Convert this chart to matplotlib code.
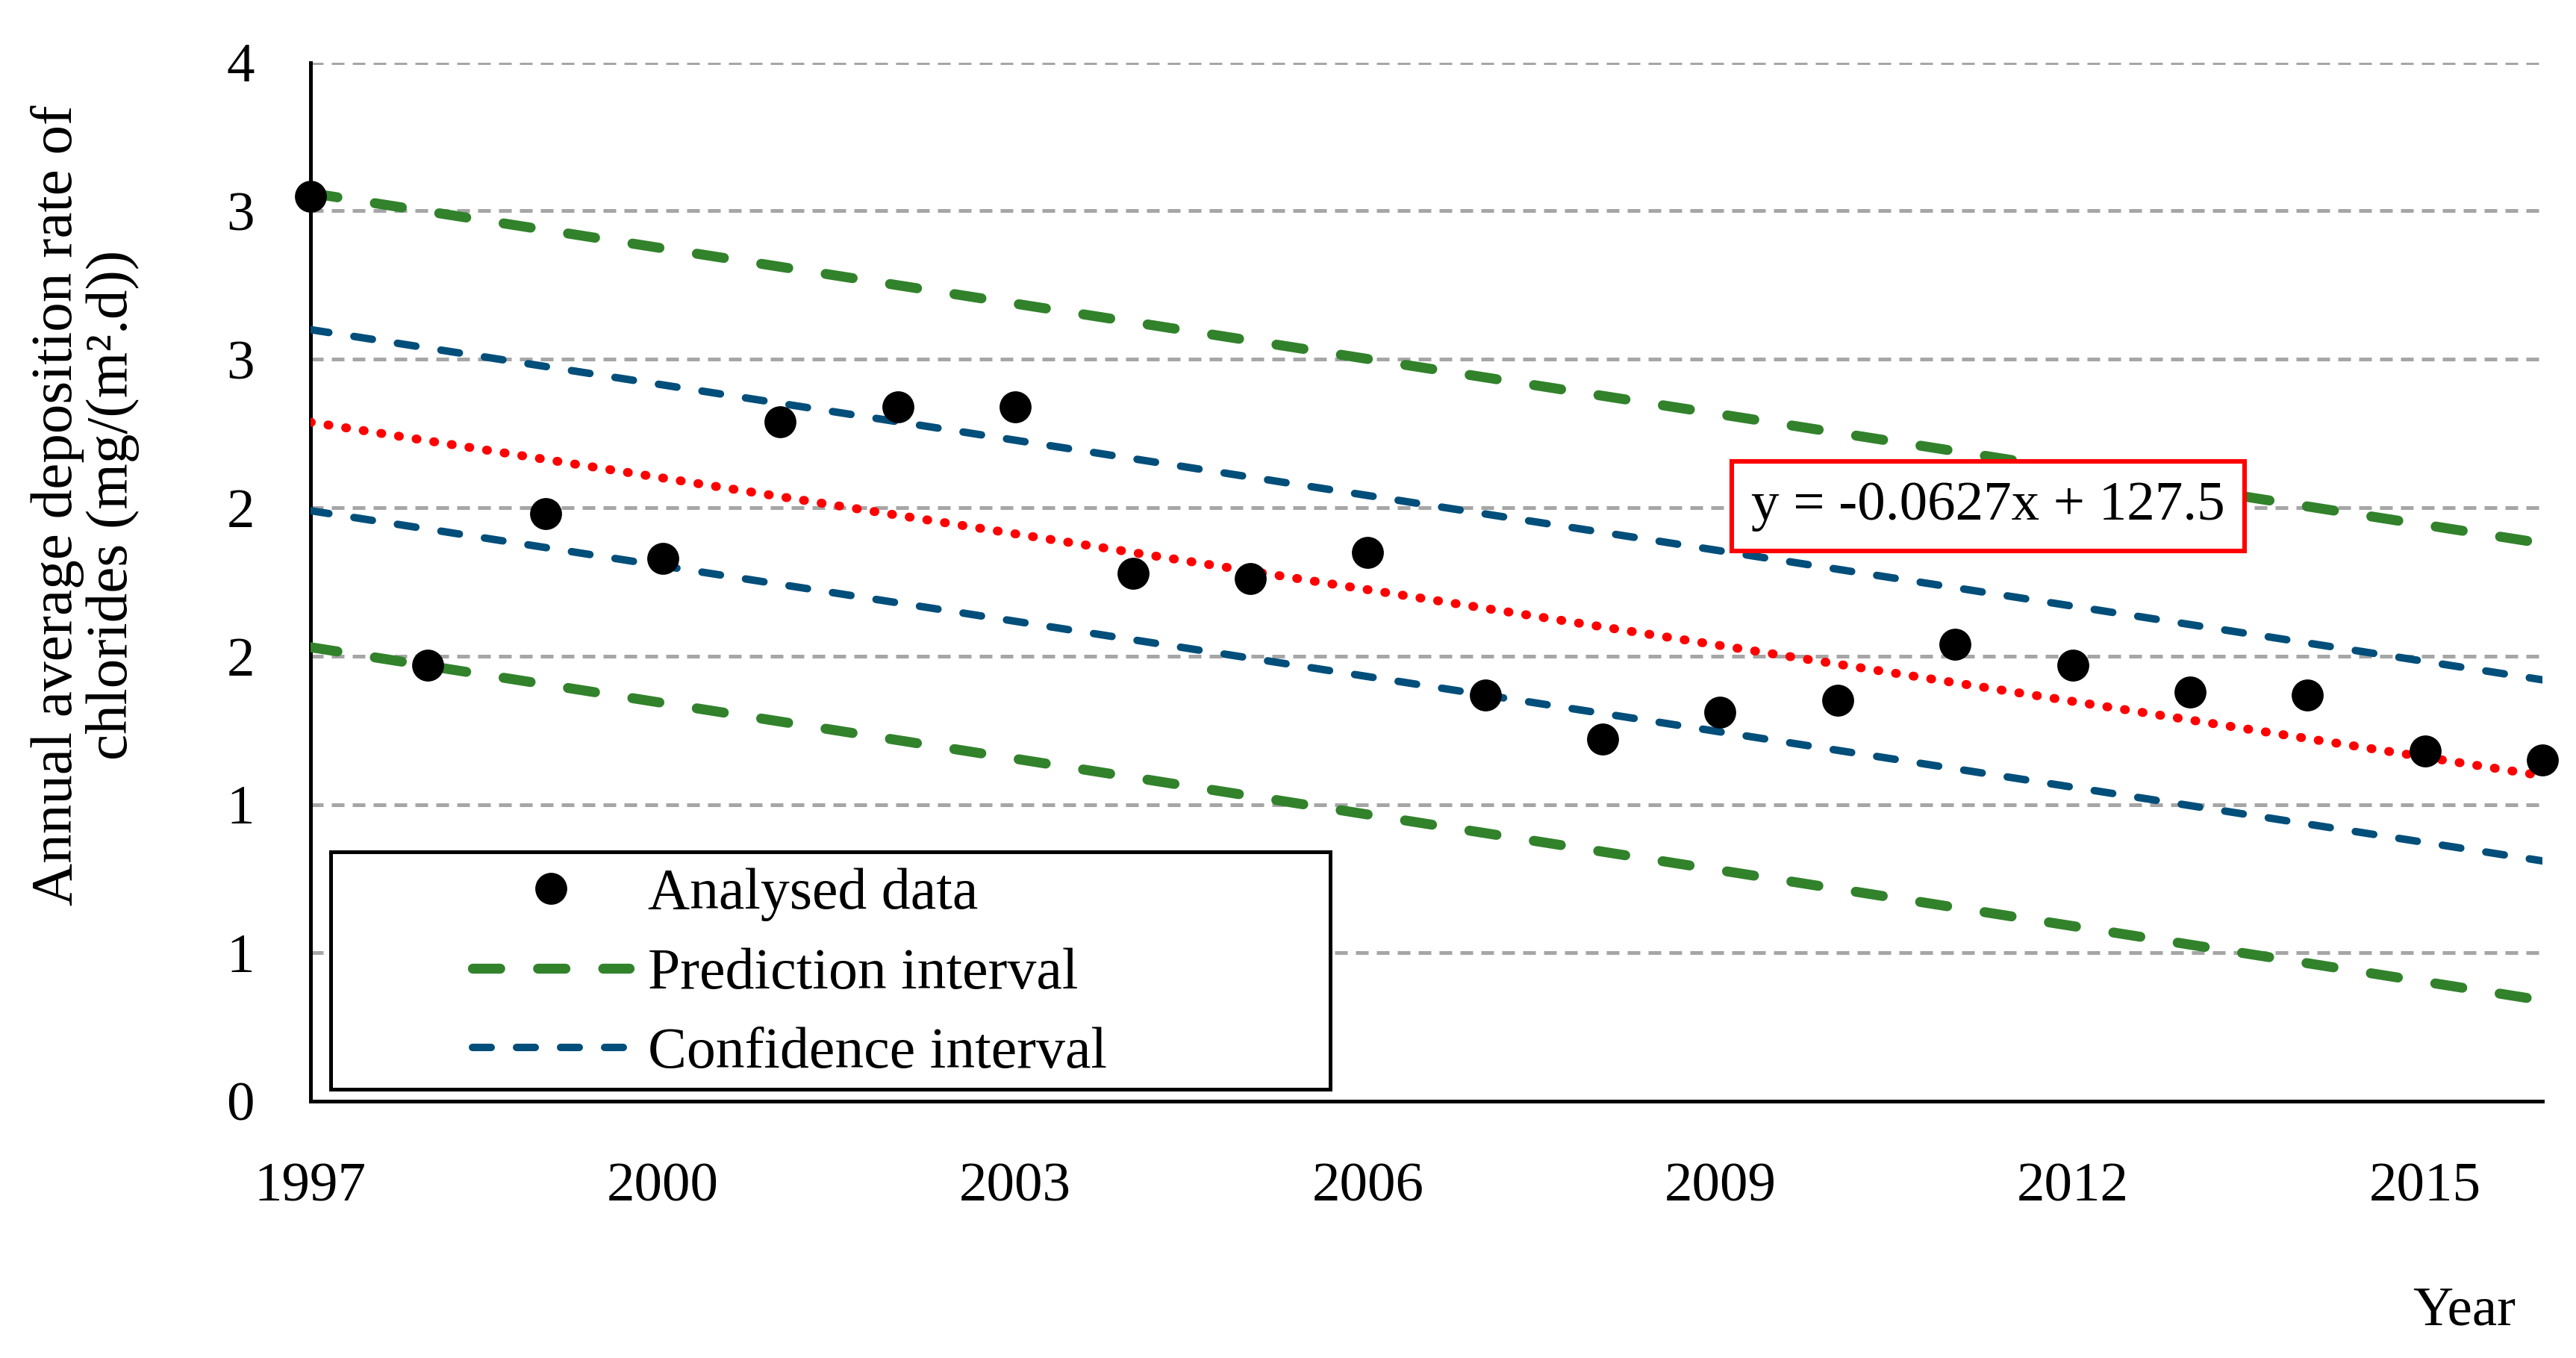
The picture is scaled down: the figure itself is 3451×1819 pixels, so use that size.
import matplotlib.pyplot as plt
from matplotlib.patches import Rectangle
from matplotlib.lines import Line2D

plt.rcParams['font.family'] = ['Liberation Serif', 'DejaVu Serif']

# analysed data
years = [1997, 1998, 1999, 2000, 2001, 2002, 2003, 2004, 2005, 2006,
         2007, 2008, 2009, 2010, 2011, 2012, 2013, 2014, 2015, 2016]
rate = [3.05, 1.47, 1.98, 1.83, 2.29, 2.34, 2.34, 1.78, 1.76, 1.85,
        1.37, 1.22, 1.31, 1.35, 1.54, 1.47, 1.38, 1.37, 1.18, 1.15]

# linear trend  y = -0.0627x + 127.5
slope = -0.0627
intercept = 127.5

# interval lines, values at first and last year
ends = [1997, 2016]
pred_upper = [3.06, 1.88]
pred_lower = [1.53, 0.34]
conf_upper = [2.60, 1.42]
conf_lower = [1.99, 0.81]

yticks = [0, 0.5, 1, 1.5, 2, 2.5, 3, 3.5]
ytick_labels = ['0', '1', '1', '2', '2', '3', '3', '4']
xticks = [1997, 2000, 2003, 2006, 2009, 2012, 2015]

green = '#31822b'
blue = '#004e7a'
pred_style = dict(color=green, lw=4.8, dashes=(2.75, 3.8), dash_capstyle='round')
conf_style = dict(color=blue, lw=3.6, dashes=(2.5, 3.4), dash_capstyle='round')

fig = plt.figure(figsize=(17.255, 9.095), dpi=200)
ax = fig.add_axes([0.1205, 0.189, 0.8665, 0.765])

trend = [slope * x + intercept for x in ends]

ax.plot(ends, pred_upper, zorder=3, **pred_style)
ax.plot(ends, pred_lower, zorder=3, **pred_style)
ax.plot(ends, conf_upper, zorder=3, **conf_style)
ax.plot(ends, conf_lower, zorder=3, **conf_style)
ax.plot(ends, trend, color='#ff0000', lw=4.3, dashes=(0.1, 1.9),
        dash_capstyle='round', zorder=4)
ax.plot(years, rate, 'o', color='black', ms=14.4, zorder=5, clip_on=False)

ax.set_xlim(1997, 2016)
ax.set_ylim(0, 3.5)
ax.set_xticks(xticks)
ax.set_yticks(yticks)
ax.set_yticklabels(ytick_labels)
ax.tick_params(axis='both', length=0, labelsize=27)
ax.tick_params(axis='x', pad=29.5)
ax.tick_params(axis='y', pad=27)

ax.yaxis.grid(True, color='#a6a6a6', lw=1.8, dashes=(3.4, 2.2))
ax.set_axisbelow(True)
for s in ['top', 'right']:
    ax.spines[s].set_visible(False)
ax.spines['left'].set_linewidth(1.8)
ax.spines['bottom'].set_linewidth(1.8)

# equation box
ax.text(2011.28, 2.005, 'y = -0.0627x + 127.5', fontsize=27,
        ha='center', va='center', zorder=6,
        bbox=dict(boxstyle='square,pad=0.35', fc='white', ec='#ff0000', lw=2.2))

# legend with its own frame
ax.add_patch(Rectangle((0.009, 0.0115), 0.4477, 0.2285, transform=ax.transAxes,
                       fc='white', ec='black', lw=1.8, zorder=6))
handles = [
    Line2D([], [], ls='none', marker='o', color='black', ms=14.4),
    Line2D([], [], **pred_style),
    Line2D([], [], **conf_style),
]
leg = ax.legend(handles, ['Analysed data', 'Prediction interval', 'Confidence interval'],
                loc='center left', bbox_to_anchor=(0.0725, 0.1223), frameon=False,
                fontsize=28, handlelength=2.7, handletextpad=0.33, borderpad=0,
                borderaxespad=0, labelspacing=0.45)
leg.set_zorder(7)

fig.text(0.033, 0.628, 'Annual average deposition rate of\nchlorides (mg/(m\u00b2.d))',
         rotation=90, ha='center', va='center', multialignment='center',
         fontsize=28.5, linespacing=1.05)
fig.text(0.9566, 0.034, 'Year', ha='center', va='center', fontsize=27)

fig.savefig('out.png', dpi=200)
